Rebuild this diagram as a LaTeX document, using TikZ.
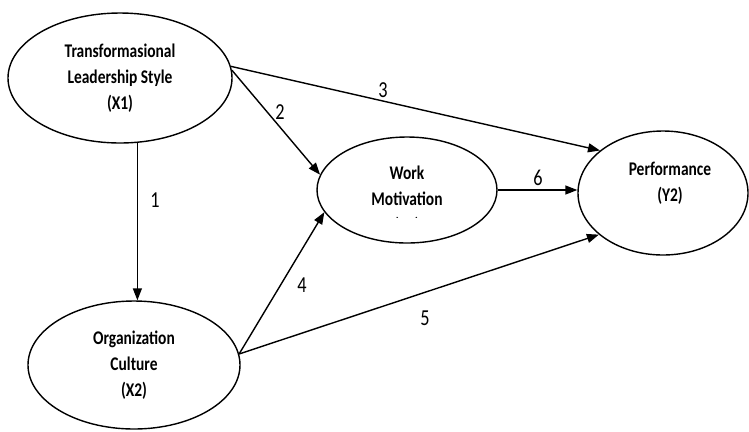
\documentclass[tikz,border=0pt]{standalone}
\usepackage{fontspec}
\usepackage{tikz}
\usetikzlibrary{shapes.geometric,arrows.meta}
\newfontfamily\diagfont[FakeStretch=0.8]{Carlito}

\begin{document}
\begin{tikzpicture}[
  oval/.style={draw, ellipse, line width=0.8pt, inner sep=0pt},
  txt/.style={font=\diagfont\bfseries\fontsize{11}{14.7}\selectfont, align=center},
  num/.style={font=\diagfont\fontsize{13}{15}\selectfont},
  arr/.style={line width=0.8pt, -{Triangle[length=0.24cm,width=0.18cm]}}]
  \useasboundingbox (0,0) rectangle (14.98,-8.62);

  \node[oval, txt, minimum width=4.48cm, minimum height=2.6cm] (x1) at (2.4,-1.56) {Transformasional\\Leadership Style\\(X1)};
  \node[oval, txt, minimum width=4.24cm, minimum height=2.56cm] (x2) at (2.68,-7.3) {Organization\\Culture\\(X2)};
  \node[oval, minimum width=3.6cm, minimum height=2.12cm] (wm) at (8.14,-3.8) {};
  \node[oval, minimum width=3.4cm, minimum height=2.48cm] (y2) at (13.26,-3.86) {};
  \node[txt] (y2txt) at (13.4,-3.67) {Performance\\(Y2)};
  \begin{scope}
    \clip (wm.north west) rectangle (wm.east |- 0,-4.34);
    \node[txt] (wmtxt) at (8.14,-4.0) {Work\\Motivation\\(Y1)};
  \end{scope}

  \draw[arr] (x1.-75) -- (x1.-75 |- x2.north);
  \draw[arr] (x1.4) -- (wm.170);
  \draw[arr] (x1.6) -- (y2.146);
  \draw[arr] (x2.6) -- (wm.195);
  \draw[arr] (x2.6) -- (y2.213);
  \draw[arr] (wm.east) -- (wm.east -| y2.west);

  \node[num] (n1) at (3.1,-4.0) {1};
  \node[num] (n2) at (5.6,-2.24) {2};
  \node[num] (n3) at (7.66,-1.8) {3};
  \node[num] (n4) at (6.04,-5.7) {4};
  \node[num] (n5) at (8.5,-6.36) {5};
  \node[num] (n6) at (10.76,-3.56) {6};
\end{tikzpicture}
\end{document}
